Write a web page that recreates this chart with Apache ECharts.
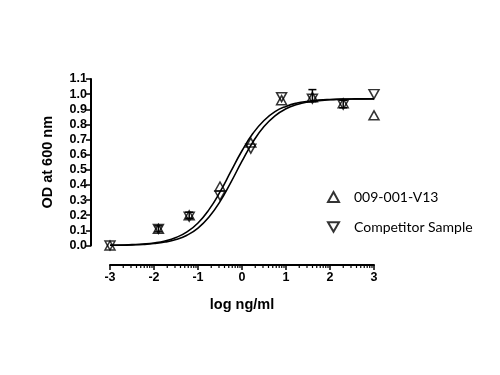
<!DOCTYPE html>
<html><head><meta charset="utf-8">
<script src="https://cdn.jsdelivr.net/npm/echarts@6/dist/echarts.min.js"></script>
<style>html,body{margin:0;padding:0;background:#fff}#c{width:500px;height:375px}</style>
</head><body><div id="c"></div>
<script>
const seriesNames = ['009-001-V13', 'Competitor Sample'];
const doseX = [-3, -1.9, -1.2, -0.5, 0.2, 0.9, 1.6, 2.3, 3.0];
const v13Y = [0.0, 0.11, 0.20, 0.39, 0.68, 0.96, 0.98, 0.94, 0.86];
const compY = [0.0, 0.11, 0.19, 0.33, 0.64, 0.98, 0.97, 0.93, 1.0];
// error bars: [x, low, high]
const errBars = [[1.6, 0.95, 1.03], [2.3, 0.91, 0.96], [-1.9, 0.09, 0.13], [-1.2, 0.18, 0.22]];
// fitted curves
const curveX = [-3, -2.75, -2.5, -2.25, -2, -1.75, -1.5, -1.25, -1, -0.75, -0.5, -0.25, 0, 0.25, 0.5, 0.75, 1, 1.25, 1.5, 1.75, 2, 2.25, 2.5, 2.75, 3];
const curveA = [0.002, 0.003, 0.006, 0.010, 0.017, 0.030, 0.053, 0.090, 0.149, 0.237, 0.354, 0.491, 0.626, 0.741, 0.826, 0.884, 0.919, 0.941, 0.953, 0.961, 0.965, 0.967, 0.968, 0.969, 0.970];
const curveB = [0.001, 0.002, 0.004, 0.007, 0.013, 0.023, 0.040, 0.068, 0.115, 0.188, 0.290, 0.419, 0.557, 0.685, 0.786, 0.857, 0.903, 0.931, 0.948, 0.957, 0.963, 0.966, 0.968, 0.969, 0.969];
const xTicks = [-3, -2, -1, 0, 1, 2, 3];
const yTicks = ['0.0','0.1','0.2','0.3','0.4','0.5','0.6','0.7','0.8','0.9','1.0','1.1'];

const minorTicks = [];
for (let d = -3; d < 3; d++) for (let k = 2; k <= 9; k++) minorTicks.push([d + Math.log10(k)]);

const UP = 'triangle';
const DOWN = 'path://M0,0L20,0L10,17.3Z';
const AX = 19.5, AY = 19;
const chart = echarts.init(document.getElementById('c'));
const symStyle = {color: 'rgba(255,255,255,0)', borderColor: '#000', borderWidth: 1.5};
chart.setOption({
  animation: false,
  backgroundColor: '#fff',
  grid: {left: 110, right: 126, top: 79, bottom: 129.5},
  legend: {
    orient: 'vertical', left: 322, top: 185, itemWidth: 11, itemHeight: 10, itemGap: 16,
    textStyle: {fontFamily: 'Lato', fontSize: 14, color: '#000', padding: [0,0,0,10]},
    data: [
      {name: seriesNames[0], icon: UP, itemStyle: {color: '#fff', borderColor: '#000', borderWidth: 2}},
      {name: seriesNames[1], icon: DOWN, itemStyle: {color: '#fff', borderColor: '#000', borderWidth: 2}}
    ]
  },
  xAxis: {
    type: 'value', min: -3, max: 3, interval: 1, offset: AX, position: 'bottom',
    name: 'log ng/ml', nameLocation: 'middle', nameGap: 32,
    nameTextStyle: {fontFamily: 'Liberation Sans', fontWeight: 'bold', fontSize: 14.5, color: '#000'},
    axisLine: {show: true, onZero: false, lineStyle: {color: '#000', width: 2}},
    axisTick: {show: true, length: 5, lineStyle: {color: '#000', width: 1.5}},
    axisLabel: {fontFamily: 'Liberation Sans', fontWeight: 'bold', fontSize: 12.5, color: '#000', margin: 6,
      formatter: v => String(xTicks[Math.round(v) + 3])},
    splitLine: {show: false}
  },
  yAxis: {
    type: 'value', min: 0, max: 1.1, interval: 0.1, offset: AY, position: 'left',
    name: 'OD at 600 nm', nameLocation: 'middle', nameGap: 36,
    nameTextStyle: {fontFamily: 'Liberation Sans', fontWeight: 'bold', fontSize: 14.5, color: '#000'},
    axisLine: {show: true, onZero: false, lineStyle: {color: '#000', width: 2}},
    axisTick: {show: true, length: 5, lineStyle: {color: '#000', width: 1.5}},
    axisLabel: {fontFamily: 'Liberation Sans', fontWeight: 'bold', fontSize: 12.5, color: '#000', margin: 4,
      formatter: v => yTicks[Math.round(v * 10)]},
    splitLine: {show: false}
  },
  series: [
    {type: 'line', data: curveX.map((x, i) => [x, curveA[i]]), smooth: true, showSymbol: false,
     lineStyle: {color: '#000', width: 1.6}, silent: true},
    {type: 'line', data: curveX.map((x, i) => [x, curveB[i]]), smooth: true, showSymbol: false,
     lineStyle: {color: '#000', width: 1.6}, silent: true},
    {type: 'custom', data: errBars, clip: false, renderItem: (params, api) => {
      const p1 = api.coord([api.value(0), api.value(1)]);
      const p2 = api.coord([api.value(0), api.value(2)]);
      const w = 4;
      const st = {stroke: '#000', lineWidth: 1.5};
      return {type: 'group', children: [
        {type: 'line', shape: {x1: p1[0], y1: p1[1], x2: p2[0], y2: p2[1]}, style: st},
        {type: 'line', shape: {x1: p1[0]-w, y1: p1[1], x2: p1[0]+w, y2: p1[1]}, style: st},
        {type: 'line', shape: {x1: p2[0]-w, y1: p2[1], x2: p2[0]+w, y2: p2[1]}, style: st}
      ]};
    }},
    {type: 'custom', data: minorTicks, clip: false, renderItem: (params, api) => {
      const p = api.coord([api.value(0), 0]);
      const y0 = params.coordSys.y + params.coordSys.height + AX;
      return {type: 'line', shape: {x1: p[0], y1: y0, x2: p[0], y2: y0 + 3}, style: {stroke: '#000', lineWidth: 1.2}};
    }},
    {name: seriesNames[0], type: 'scatter', symbol: UP, symbolSize: [10, 9],
     data: doseX.map((x, i) => [x, v13Y[i]]), itemStyle: symStyle, z: 5},
    {name: seriesNames[1], type: 'scatter', symbol: DOWN, symbolSize: [10, 9],
     data: doseX.map((x, i) => [x, compY[i]]), itemStyle: symStyle, z: 5}
  ]
});
</script></body></html>
